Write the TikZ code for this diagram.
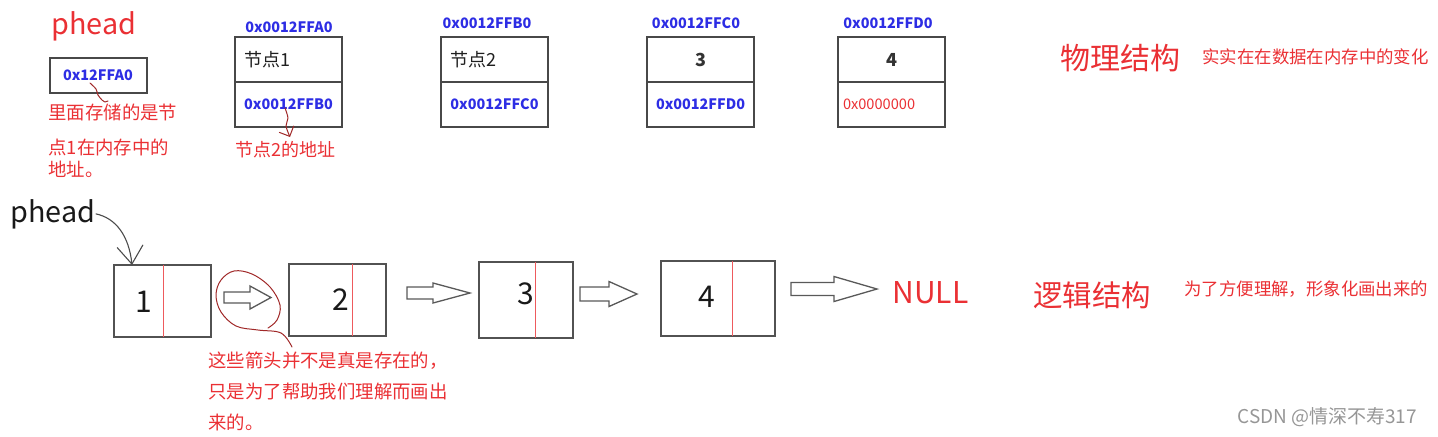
\documentclass[tikz,border=0pt]{standalone}
\usepackage{fontspec}
\setmainfont{Noto Sans CJK SC}
\usetikzlibrary{
  arrows.meta,
  calc,
  positioning
}
\definecolor{notered}{RGB}{234,48,52}
\definecolor{addrblue}{RGB}{45,45,228}
\definecolor{inkred}{RGB}{160,40,40}
\definecolor{framegray}{RGB}{72,72,72}
\definecolor{markgray}{RGB}{150,150,150}
\tikzset{
  cell/.style={
    draw=framegray,
    line width=1pt,
    outer sep=0pt,
    inner xsep=4.5pt,
    inner ysep=0pt,
    text width=44.5pt,
    minimum height=22.5pt
  },
  addrfont/.style={font=\fontsize{7.2}{8}\selectfont\bfseries,text=addrblue},
  addr/.style={addrfont,inner sep=0pt},
  listbox/.style={draw=black!68,line width=.8pt,outer sep=0pt,inner sep=0pt},
  digit/.style={font=\fontsize{15}{18}\selectfont,text=black!90,inner sep=0pt},
  divider/.style={notered!80,line width=.5pt},
  hollow/.style={draw=black!65,line width=.65pt,fill=white,line join=miter},
  note/.style={font=\fontsize{9.2}{11}\selectfont,text=notered,align=left,inner sep=0pt},
  title/.style={font=\fontsize{14.7}{17}\selectfont,text=notered,inner sep=0pt},
  remark/.style={font=\fontsize{8.7}{10}\selectfont,text=notered,inner sep=0pt},
  squiggle/.style={inkred,line width=.5pt,line cap=round,line join=round},
  pointer/.style={black!70,line width=.55pt,-{Straight Barb[length=9pt,width=13pt]}}
}
\newcommand{\hollowarrow}[6]{% x0, x1, x2, y, shaft half, head half
  \draw[hollow] (#1,#4-#5) -- (#2,#4-#5) -- (#2,#4-#6) -- (#3,#4) -- (#2,#4+#6) -- (#2,#4+#5) -- (#1,#4+#5) -- cycle;%
}

\begin{document}
\begin{tikzpicture}[x=0.5pt,y=-0.5pt]
  \useasboundingbox (0,0) rectangle (1438,436);

  % physical structure
  \node[font=\fontsize{14.4}{17}\selectfont,text=notered,anchor=base west,inner sep=0pt] (toph) at (51,34.5) {phead};
  \node[addr,draw=framegray,line width=1pt,minimum width=48.5pt,minimum height=17.5pt] (hbox) at (98,75.5) {0x12FFA0};
  \node[note,anchor=north west] (hnote) at (48,103.5) {里面存储的是节\\[6.5pt]点1在内存中的\\地址。};
  \draw[squiggle] plot[smooth] coordinates {(90,83) (96,89) (98,95) (102,100) (105,102)} -- (108,101);

  \foreach \n/\x/\ax/\ay/\addr/\nxt in {1/288.5/289/27/0x0012FFA0/0x0012FFB0,2/494.5/487/23/0x0012FFB0/0x0012FFC0,3/700.5/696/23/0x0012FFC0/0x0012FFD0,4/891.5/888/23/0x0012FFD0/0x0000000} {
    \ifnum\n<3
      \node[cell,align=left,font=\fontsize{9}{11}\selectfont,text=black!88] (m\n) at (\x,59.5) {节点\n};
    \else
      \node[cell,align=center,font=\fontsize{9}{11}\selectfont\bfseries,text=black!80] (m\n) at (\x,59.5) {\n};
    \fi
    \ifnum\n<4
      \node[addrfont,cell,align=center,below=0pt of m\n] (p\n) {\nxt};
    \else
      \node[cell,align=left,inner xsep=2.5pt,text width=48.5pt,font=\fontsize{7.3}{9}\selectfont,text=notered,below=0pt of m\n] (p\n) {\nxt};
    \fi
    \node[addr] (a\n) at (\ax,\ay) {\addr};
  }
  \draw[squiggle,-{Straight Barb[length=4pt,width=8pt]}] plot[smooth] coordinates {(285,108) (288,118) (286,126) (290,137)};
  \node[note,font=\fontsize{9}{11}\selectfont,anchor=west] (fnote) at (235,150) {节点2的地址};

  \node[title,font=\fontsize{15}{18}\selectfont,anchor=west] (phys) at (1060,58) {物理结构};
  \node[remark,anchor=west] (physr) at (1202,57) {实实在在数据在内存中的变化};

  % logical structure
  \node[font=\fontsize{14.4}{17}\selectfont,text=black!90,anchor=base west,inner sep=0pt] (hb) at (10,222) {phead};
  \foreach \n/\x/\y/\w/\h/\rx/\dx/\dy in {1/162.5/301/48.5pt/36pt/163/144/302,2/337.5/300/48.5pt/36pt/352/341/300,3/526/300/47pt/38pt/535/526/294,4/718/298.5/57pt/37.5pt/732/707/297} {
    \node[listbox,minimum width=\w,minimum height=\h] (l\n) at (\x,\y) {};
    \draw[divider] (\rx,0 |- l\n.north) -- (\rx,0 |- l\n.south);
    \node[digit] (d\n) at (\dx,\dy) {\n};
  }
  \draw[pointer] (hb.east) .. controls (116,218) and (129,236) .. (132,0 |- l1.north);

  \hollowarrow{224}{250}{271}{297.5}{5.5}{11.5}
  \hollowarrow{407}{433}{470}{293}{6}{10}
  \hollowarrow{580}{609}{637}{294}{7}{12.5}
  \hollowarrow{791}{834}{877}{289}{6.5}{12.5}

  \draw[squiggle] plot[smooth,tension=.6] coordinates {(292,347) (281,333) (258,330) (236,326) (221,312) (216,295) (221,280) (234,271) (252,274) (270,287) (280,305) (277,320) (268,328)};
  \node[note,font=\fontsize{9.2}{15.5}\selectfont,anchor=north west] (anote) at (208,351) {这些箭头并不是真是存在的，\\只是为了帮助我们理解而画出\\来的。};

  \node[title,font=\fontsize{15}{18}\selectfont,anchor=west] (null) at (892,293) {NULL};
  \node[title,anchor=west] (logic) at (1033,295) {逻辑结构};
  \node[remark,anchor=west] (logicr) at (1184,289) {为了方便理解，形象化画出来的};

  \node[font=\fontsize{9.5}{11}\selectfont,text=markgray,anchor=west,inner sep=0pt] (mark) at (1237,417) {CSDN @情深不寿317};
\end{tikzpicture}
\end{document}
